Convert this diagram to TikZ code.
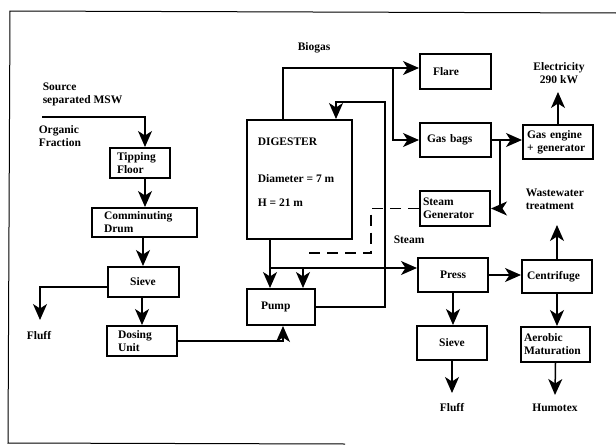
\documentclass[tikz,border=0pt]{standalone}
\usepackage{fontspec}
\setmainfont{Liberation Serif}
\usetikzlibrary{arrows.meta}

\begin{document}
\begin{tikzpicture}[x=1pt,y=-1pt,line width=1.5pt,
  every node/.style={font=\bfseries\fontsize{11.5}{13}\selectfont},
  box/.style={draw,line width=2pt,inner xsep=8pt,inner ysep=2pt,align=left,minimum height=#1},
  box/.default=30pt,
  flow/.style={-{Stealth[length=16pt,width=14pt,inset=4.5pt]}},
  lbl/.style={align=left,inner sep=0pt}]
  \useasboundingbox (0,0) rectangle (616,447);
  \draw[line width=1pt] (345,444) -- (8,443) -- (10,11) -- (616,13);

  \node[box,text width=46pt,inner xsep=7pt] (tip) at (140,163) {Tipping\\Floor};
  \node[box=29pt,inner xsep=12pt,text width=81pt] (drum) at (144.5,222.5) {Comminuting\\Drum};
  \node[box,text width=55pt,align=center] (sieve) at (143,282) {Sieve};
  \node[box,inner xsep=11pt,text width=48pt] (dose) at (142,341) {Dosing\\Unit};
  \node[box=36pt,inner xsep=14pt,text width=40pt] (pump) at (281,307) {Pump};
  \node[draw,line width=2pt,minimum width=105pt,minimum height=119pt] (dig) at (299.5,179.5) {};
  \node[lbl,anchor=west] (digname) at (257,142) {DIGESTER};
  \node[lbl,anchor=west] (digdiam) at (257,179) {Diameter = 7 m};
  \node[lbl,anchor=west] (digh) at (257,203) {H = 21 m};
  \node[box=35pt,inner xsep=13pt,text width=45pt] (flare) at (455.5,71.5) {Flare};
  \node[box=34pt,inner xsep=7pt,text width=57pt] (bags) at (455.5,140) {Gas bags};
  \node[box=35pt,inner xsep=3pt,text width=64pt] (steam) at (455,208.5) {Steam\\Generator};
  \node[box=34pt,inner xsep=4pt,text width=62pt] (engine) at (558,142) {Gas engine\\+ generator};
  \node[box=34pt,text width=54pt,align=center] (press) at (453,275) {Press};
  \node[box=34pt,text width=54pt,align=center] (sieveb) at (452,343) {Sieve};
  \node[box=33pt,inner xsep=5pt,text width=60pt] (cent) at (557,276.5) {Centrifuge};
  \node[box=35pt,inner xsep=3pt,text width=63pt] (aer) at (555.5,344.5) {Aerobic\\Maturation};

  \node[lbl,anchor=west] (msw) at (42,94.5) {Source\\separated MSW};
  \node[lbl,anchor=west] (org) at (38,136.5) {Organic\\Fraction};
  \node[lbl,anchor=west] (biogas) at (297,48) {Biogas};
  \node[lbl,align=center] (elec) at (559,73.5) {Electricity\\290 kW};
  \node[lbl,anchor=west] (ww) at (525,199.5) {Wastewater\\treatment};
  \node[lbl,anchor=west] (steaml) at (393,240) {Steam};
  \node (fluffa) at (39,336) {Fluff};
  \node (fluffb) at (452,408) {Fluff};
  \node (humotex) at (555,408) {Humotex};

  \coordinate (in) at (42,117);
  \coordinate (drumout) at (143,237);
  \coordinate (fa) at (40,320);
  \coordinate (jl) at (270,268);
  \coordinate (jr) at (303,268);
  \coordinate (loopr) at (385,102);
  \coordinate (loopl) at (336,102);
  \coordinate (bg) at (283,68);
  \coordinate (bgsplit) at (393,68);
  \coordinate (gsplit) at (500,140);
  \coordinate (dsh) at (371,253);
  \coordinate (dend) at (303,253);
  \coordinate (eltop) at (558,92);
  \coordinate (wwtop) at (557,225);
  \coordinate (fb) at (452,393);
  \coordinate (ht) at (555,395);

  \draw[flow] (in) -| ([xshift=5pt]tip.north);
  \draw[flow] ([xshift=5pt]tip.south) -- ([xshift=5pt]tip.south |- drum.north);
  \draw[flow] (drumout) -- (sieve.north);
  \draw[flow] (sieve.south -| dose.north) -- (dose.north);
  \draw[flow] ([yshift=-5pt]sieve.west) -| (fa);
  \draw[flow] (dose.east) -| ([xshift=2pt]pump.south);
  \draw[flow] (jl |- dig.south) -- (jl |- pump.north);
  \draw[flow] (jl) -- (jl -| press.west);
  \draw[flow] (jr) -- (jr |- pump.north);
  \draw[flow] (pump.east) -| (loopr) -- (loopl) -- (loopl |- dig.north);
  \draw[flow] (bg |- dig.north) -- (bg) -- (bg -| flare.west);
  \draw[flow] (bgsplit) |- (bags.west);
  \draw[flow] (bags.east) -- (bags.east -| engine.west);
  \draw[flow] (gsplit) |- (steam.east);
  \draw[dash pattern=on 11pt off 7pt] (steam.west) -| (dsh) -- (dend);
  \draw[flow] (engine.north) -- (eltop);
  \draw[flow] (cent.north) -- (wwtop);
  \draw[flow] (press.east) -- (press.east -| cent.west);
  \draw[flow] (press.south) -- (press.south |- sieveb.north);
  \draw[flow] (sieveb.south) -- (fb);
  \draw[flow] (cent.south) -- (cent.south |- aer.north);
  \draw[flow] (aer.south) -- (ht);
\end{tikzpicture}
\end{document}
